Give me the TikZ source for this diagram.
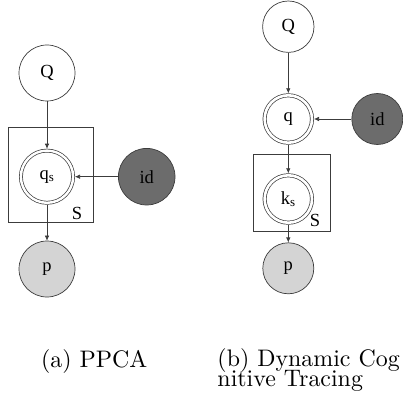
\documentclass[tikz,border=0pt]{standalone}
\usepackage{fontspec}
\newfontfamily\nodefont{Liberation Serif}
\usetikzlibrary{arrows.meta}
\definecolor{edge}{RGB}{60,60,60}
\definecolor{darkfill}{RGB}{108,108,108}
\definecolor{lightfill}{RGB}{212,212,212}
\begin{document}
\begin{tikzpicture}[x=1pt,y=-1pt,
  var/.style={circle, draw=edge, line width=0.7pt, inner sep=0pt,
    font=\nodefont\fontsize{18.5}{21}\selectfont},
  latentL/.style={var, double, double distance=2.4pt, outer sep=1.9pt, minimum size=52.2pt},
  latentR/.style={var, double, double distance=2.6pt, outer sep=2pt, minimum size=47.4pt},
  plate/.style={draw=edge, line width=0.7pt},
  platelabel/.style={inner sep=0pt, font=\nodefont\fontsize{18.5}{21}\selectfont},
  arr/.style={draw=edge, line width=0.6pt, -{Latex[length=5pt,width=4.5pt]}},
  caption/.style={inner sep=0pt, anchor=base west, align=left, scale=2.39,
    font={\fontsize{10}{8.3}\selectfont\lineskiplimit=-20pt}}
]
\useasboundingbox (0,0) rectangle (403,398);
\clip (0,0) rectangle (403,398);
% ---- (a) PPCA ----
\node[var, minimum size=56pt] (QL) at (47,73) {Q};
\node[plate, minimum width=85.4pt, minimum height=94.7pt, inner sep=0pt] (plateL) at (51,174.65) {};
\node[latentL] (qs) at (47,176.7) {q\textsubscript{s}};
\node[platelabel] (SL) at (77,213) {S};
\node[var, minimum size=56.6pt, fill=darkfill] (idL) at (146.7,176.7) {id};
\node[var, minimum size=56pt, fill=lightfill] (pL) at (47,269) {p};
\draw[arr] (QL) -- (qs);
\draw[arr] (idL) -- (qs);
\draw[arr] (qs) -- (pL);
% ---- (b) Dynamic Cognitive Tracing ----
\node[var, minimum size=51.4pt] (QR) at (288.3,26.7) {Q};
\node[latentR] (q) at (288.3,119) {q};
\node[var, minimum size=51pt, fill=darkfill] (idR) at (377.3,119) {id};
\node[plate, minimum width=76.7pt, minimum height=76.7pt, inner sep=0pt] (plateR) at (291.65,192.65) {};
\node[latentR] (ks) at (288.3,199) {k\textsubscript{s}};
\node[platelabel] (SR) at (315,220) {S};
\node[var, minimum size=51pt, fill=lightfill] (pR) at (288.3,268.3) {p};
\draw[arr] (QR) -- (q);
\draw[arr] (idR) -- (q);
\draw[arr] (q) -- (ks);
\draw[arr] (ks) -- (pR);
% ---- captions ----
\node[caption] (capA) at (40.7,367) {(a) PPCA};
\node[caption] (capB) at (217,386) {(b) Dynamic Cog\\nitive Tracing};
\end{tikzpicture}
\end{document}
